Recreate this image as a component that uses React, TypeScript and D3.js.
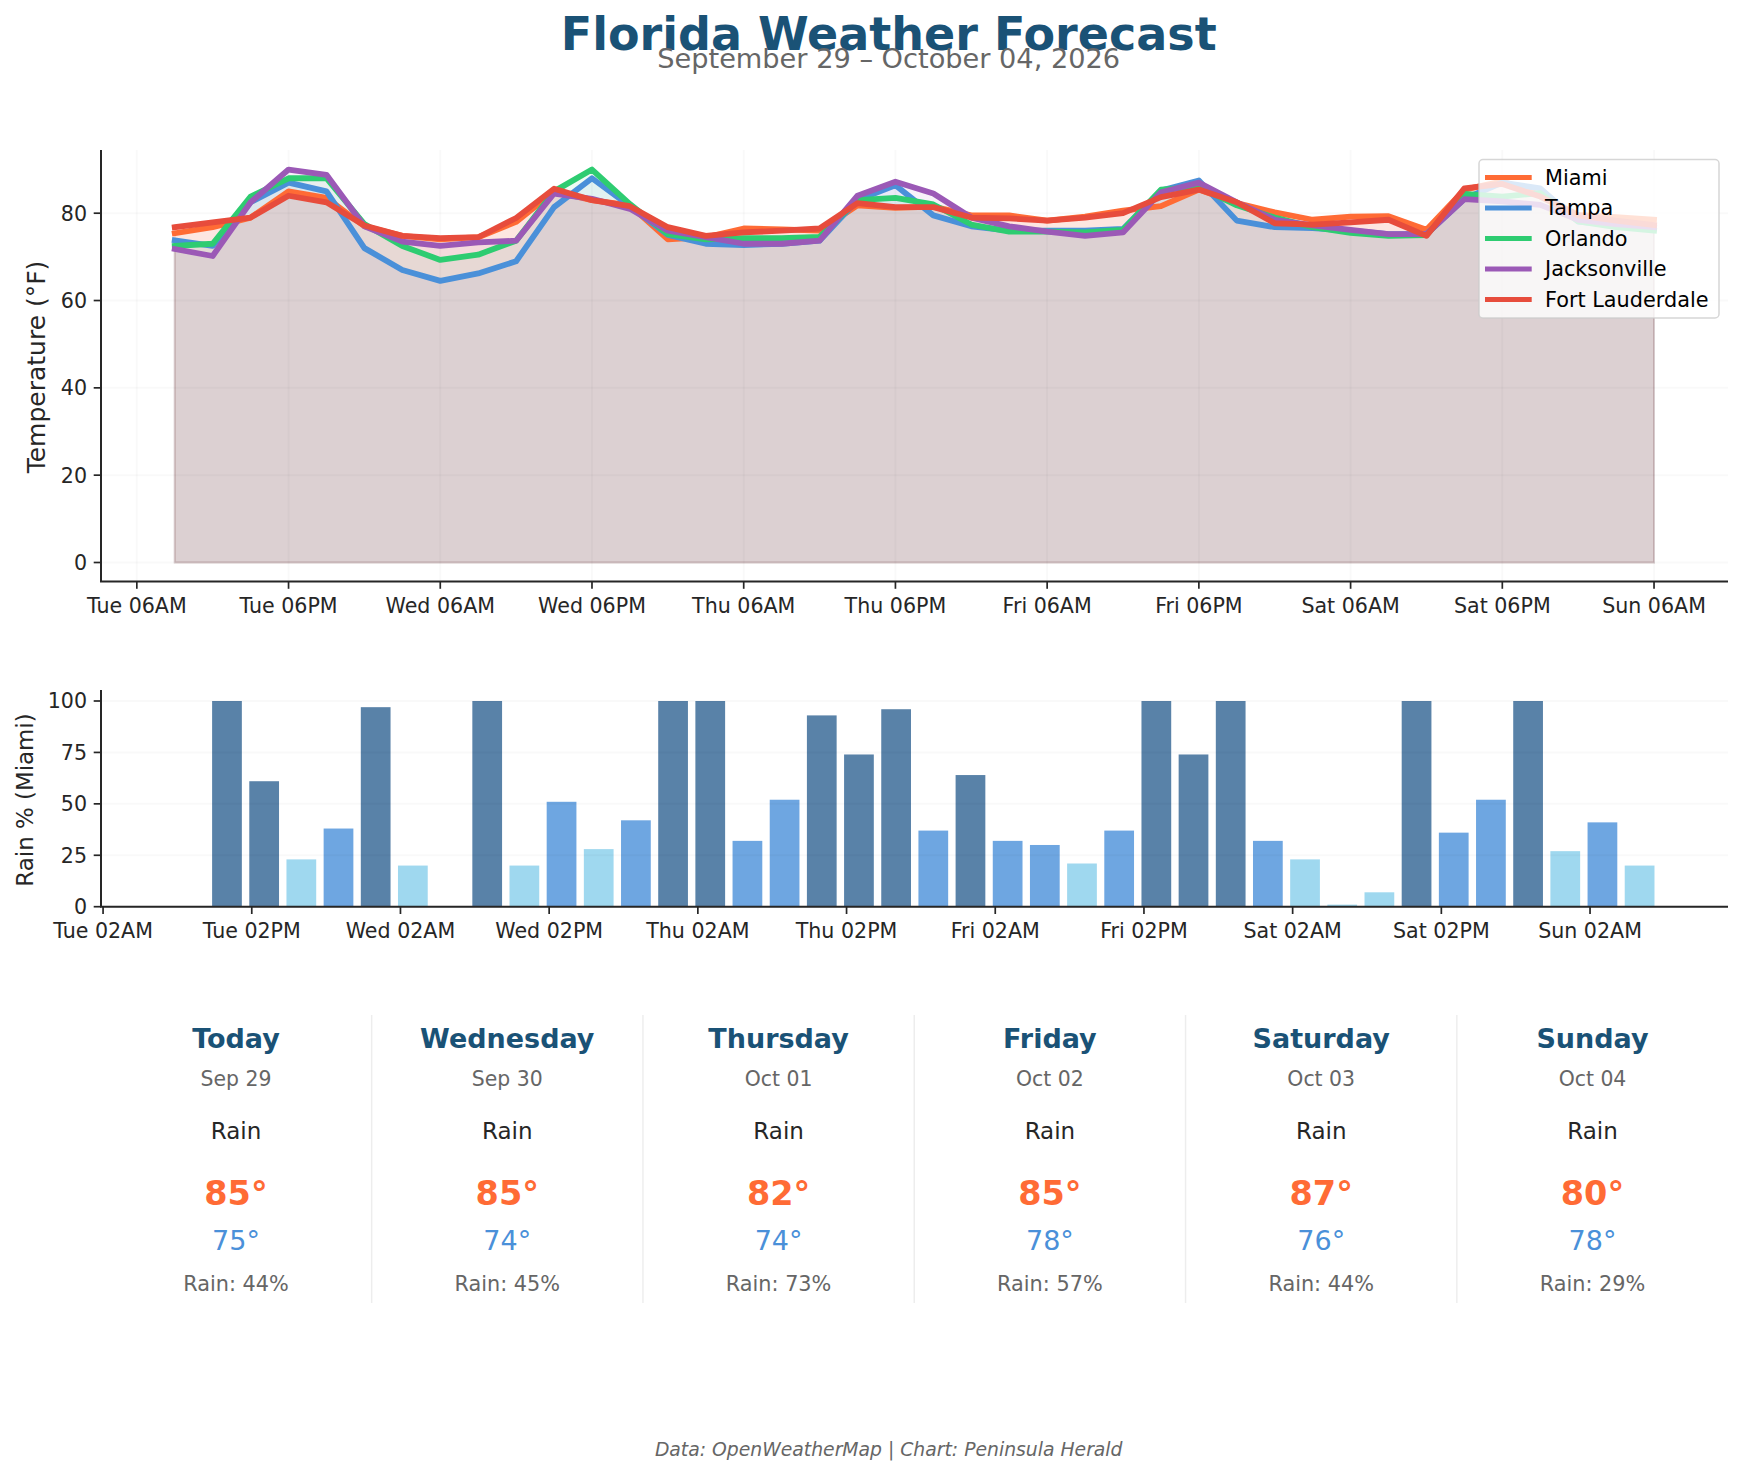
import * as d3 from "d3";

const WIDTH = 1743;
const HEIGHT = 1474;
const FONT = "'DejaVu Sans', sans-serif";
const TEXT = "#262626";
const NAVY = "#1a5276";
const GREY = "#666666";

const CITIES = ["Miami", "Tampa", "Orlando", "Jacksonville", "Fort Lauderdale"];
const CITY_COLORS = ["#ff6b35", "#4a90d9", "#2ecc71", "#9b59b6", "#e74c3c"];

const MIAMI = [75.4, 76.8, 79, 85, 83.5, 77, 74.8, 74, 74.5, 78, 85, 83, 81.8, 74, 74.5, 76.5, 76.3, 76, 81.8, 81.2, 81.5, 79.5, 79.5, 78.3, 79.2, 80.6, 81.6, 85.4, 82.3, 80.2, 78.5, 79.2, 79.3, 76.2, 85.4, 87.3, 84.2, 79.6, 79.1, 78.5];
const TAMPA = [73.8, 72.5, 82.5, 87, 85, 72, 67, 64.5, 66.2, 69, 81.4, 88, 81.6, 75, 73, 72.7, 73, 73.7, 83, 86.4, 79.5, 77, 76, 76, 76, 76.4, 85.2, 87.5, 78.3, 76.8, 76.6, 76, 75.2, 75.2, 83.3, 87, 85.7, 78.1, 77.2, 76.6];
const ORLANDO = [72.5, 73, 83.8, 88, 88, 77.5, 72.5, 69.3, 70.5, 73.7, 85, 90, 82.1, 75.2, 74, 74.3, 74.3, 74.6, 83, 83.5, 82, 77.4, 75.8, 75.8, 75.6, 76.2, 85.4, 86, 81.8, 79, 76.8, 75.5, 74.8, 75, 84.4, 83.8, 84.6, 78.1, 76.8, 76];
const JACKSONVILLE = [71.8, 70.2, 82.5, 90, 88.8, 77, 73.5, 72.5, 73.3, 73.7, 84.5, 83.3, 81, 76, 74.5, 73, 73, 73.7, 84, 87.2, 84.5, 79, 77, 75.8, 74.8, 75.6, 84.8, 87, 82.5, 78.5, 77.2, 76.2, 75.2, 75.2, 83.2, 82.7, 81.9, 78.5, 77.5, 76.8];
const FORT_LAUDERDALE = [76.8, 77.9, 79, 84, 82.5, 77.2, 74.8, 74.3, 74.5, 78.9, 85.6, 83, 81.6, 76.8, 74.8, 75.6, 76, 76.5, 82.3, 81.4, 81.4, 79, 78.8, 78.3, 79, 80, 83.7, 85.4, 82.5, 77.7, 77.4, 77.9, 78.5, 74.8, 85.7, 86.7, 83.8, 79.5, 78.3, 77.3];
const TEMPS = [MIAMI, TAMPA, ORLANDO, JACKSONVILLE, FORT_LAUDERDALE];

const RAIN = [0, 100, 61, 23, 38, 97, 20, 0, 100, 20, 51, 28, 42, 100, 100, 32, 52, 93, 74, 96, 37, 64, 32, 30, 21, 37, 100, 74, 100, 32, 23, 1, 7, 100, 36, 52, 100, 27, 41, 20];

const TEMP_TICKS = [0, 20, 40, 60, 80];
const RAIN_TICKS = [0, 25, 50, 75, 100];

const DAY_NAMES = ["Today", "Wednesday", "Thursday", "Friday", "Saturday", "Sunday"];
const DAY_DATES = ["Sep 29", "Sep 30", "Oct 01", "Oct 02", "Oct 03", "Oct 04"];
const DAY_HIGHS = [85, 85, 82, 85, 87, 80];
const DAY_LOWS = [75, 74, 74, 78, 76, 78];
const DAY_RAIN = [44, 45, 73, 57, 44, 29];

const START = Date.UTC(2026, 8, 29, 9);
const HOUR = 3600000;
const TIMES = MIAMI.map((_, i) => new Date(START + i * 3 * HOUR));
const fmt = d3.utcFormat("%a %I%p");

const LEFT = 101;
const RIGHT = 1728;

const xTop = d3
  .scaleUtc()
  .domain([new Date(Date.UTC(2026, 8, 29, 3, 10)), new Date(Date.UTC(2026, 9, 4, 11, 51))])
  .range([LEFT, RIGHT]);
const yTop = d3.scaleLinear().domain([0, 80]).range([562.5, 213.2]);
const topTicks = d3.utcHour.range(
  new Date(Date.UTC(2026, 8, 29, 6)),
  new Date(Date.UTC(2026, 9, 4, 7)),
  12
);

const xBar = d3
  .scaleUtc()
  .domain([new Date(Date.UTC(2026, 8, 29, 1, 50)), new Date(Date.UTC(2026, 9, 4, 13, 8))])
  .range([LEFT, RIGHT]);
const yBar = d3.scaleLinear().domain([0, 100]).range([906.7, 701]);
const barTicks = d3.utcHour.range(
  new Date(Date.UTC(2026, 8, 29, 2)),
  new Date(Date.UTC(2026, 9, 4, 3)),
  12
);

const rainColor = (v: number) => (v >= 60 ? "#1c5488" : v >= 30 ? "#4a90d9" : "#87ceeb");
const rainOpacity = (v: number) => (v >= 60 ? 0.73 : 0.8);

const lineGen = d3
  .line<number>()
  .x((_, i) => xTop(TIMES[i]))
  .y((d) => yTop(d));
const areaGen = d3
  .area<number>()
  .x((_, i) => xTop(TIMES[i]))
  .y0(yTop(0))
  .y1((d) => yTop(d));

const CARD_STEP = 271.3;
const cardX = d3.scaleLinear().domain([0, 1]).range([236, 236 + CARD_STEP]);

export default function App() {
  const barWidth = xBar(new Date(START + 2.4 * HOUR)) - xBar(new Date(START));
  return (
    <svg
      width={WIDTH}
      height={HEIGHT}
      viewBox={`0 0 ${WIDTH} ${HEIGHT}`}
      style={{ position: "absolute", left: 0, top: 0, background: "#fff" }}
      fontFamily={FONT}
    >
      <text x={888.7} y={50} textAnchor="middle" fontSize={46} fontWeight="bold" fill={NAVY}>
        Florida Weather Forecast
      </text>
      <text x={888.7} y={67.5} textAnchor="middle" fontSize={27.2} fill={GREY}>
        September 29 – October 04, 2026
      </text>

      {/* temperature panel */}
      <g>
        {TEMPS.map((vals, i) => (
          <path
            key={CITIES[i]}
            d={areaGen(vals) ?? ""}
            fill={CITY_COLORS[i]}
            fillOpacity={0.08}
            stroke={CITY_COLORS[i]}
            strokeOpacity={0.08}
            strokeWidth={2}
          />
        ))}
        {topTicks.map((t) => (
          <line key={+t} x1={xTop(t)} x2={xTop(t)} y1={150} y2={581.5} stroke="#000" strokeOpacity={0.025} strokeWidth={2} />
        ))}
        {TEMP_TICKS.map((t) => (
          <line key={t} x1={LEFT} x2={RIGHT} y1={yTop(t)} y2={yTop(t)} stroke="#000" strokeOpacity={0.025} strokeWidth={2} />
        ))}
        {TEMPS.map((vals, i) => (
          <path
            key={CITIES[i]}
            d={lineGen(vals) ?? ""}
            fill="none"
            stroke={CITY_COLORS[i]}
            strokeWidth={5.8}
            strokeLinejoin="round"
            strokeLinecap="square"
          />
        ))}
        <path d={`M${LEFT},150V581.5H${RIGHT}`} fill="none" stroke={TEXT} strokeWidth={2} />
        {topTicks.map((t) => (
          <g key={+t} transform={`translate(${xTop(t)},581.5)`}>
            <line y2={7.3} stroke={TEXT} strokeWidth={1.7} />
            <text y={31.8} textAnchor="middle" fontSize={20.6} fill={TEXT}>
              {fmt(t)}
            </text>
          </g>
        ))}
        {TEMP_TICKS.map((t) => (
          <g key={t} transform={`translate(${LEFT},${yTop(t)})`}>
            <line x2={-7.3} stroke={TEXT} strokeWidth={1.7} />
            <text x={-14} y={7.4} textAnchor="end" fontSize={20.6} fill={TEXT}>
              {t}
            </text>
          </g>
        ))}
        <text transform="translate(45,367) rotate(-90)" textAnchor="middle" fontSize={25} fill={TEXT}>
          Temperature (°F)
        </text>

        <rect x={1479} y={159.5} width={240} height={158.5} rx={4} fill="#fff" fillOpacity={0.8} stroke="#ccc" strokeOpacity={0.8} strokeWidth={1.5} />
        {CITIES.map((c, i) => (
          <g key={c} transform={`translate(1485,${177.5 + i * 30.5})`}>
            <line x1={0} x2={46.7} stroke={CITY_COLORS[i]} strokeWidth={5.2} />
            <text x={60} y={7.4} fontSize={20.8} fill="#000">
              {c}
            </text>
          </g>
        ))}
      </g>

      {/* rain panel */}
      <g>
        {RAIN.map((v, i) => (
          <rect
            key={i}
            x={xBar(TIMES[i]) - barWidth / 2}
            y={yBar(v)}
            width={barWidth}
            height={yBar(0) - yBar(v)}
            fill={rainColor(v)}
            fillOpacity={rainOpacity(v)}
          />
        ))}
        {RAIN_TICKS.map((t) => (
          <line key={t} x1={LEFT} x2={RIGHT} y1={yBar(t)} y2={yBar(t)} stroke="#000" strokeOpacity={0.025} strokeWidth={2} />
        ))}
        <path d={`M${LEFT},690V906.7H${RIGHT}`} fill="none" stroke={TEXT} strokeWidth={2} />
        {barTicks.map((t) => (
          <g key={+t} transform={`translate(${xBar(t)},906.7)`}>
            <line y2={7.3} stroke={TEXT} strokeWidth={1.7} />
            <text y={31.8} textAnchor="middle" fontSize={20.6} fill={TEXT}>
              {fmt(t)}
            </text>
          </g>
        ))}
        {RAIN_TICKS.map((t) => (
          <g key={t} transform={`translate(${LEFT},${yBar(t)})`}>
            <line x2={-7.3} stroke={TEXT} strokeWidth={1.7} />
            <text x={-14} y={7.4} textAnchor="end" fontSize={20.6} fill={TEXT}>
              {t}
            </text>
          </g>
        ))}
        <text transform="translate(33,800) rotate(-90)" textAnchor="middle" fontSize={22.9} fill={TEXT}>
          Rain % (Miami)
        </text>
      </g>

      {/* day cards */}
      {DAY_NAMES.map((name, i) => {
        const cx = cardX(i);
        return (
          <g key={name} textAnchor="middle">
            {i > 0 && (
              <line
                x1={cx - CARD_STEP / 2}
                x2={cx - CARD_STEP / 2}
                y1={1015}
                y2={1303}
                stroke="#000"
                strokeOpacity={0.07}
                strokeWidth={1.5}
              />
            )}
            <text x={cx} y={1047.8} fontSize={27} fontWeight="bold" fill={NAVY}>
              {name}
            </text>
            <text x={cx} y={1086} fontSize={20.4} fill={GREY}>
              {DAY_DATES[i]}
            </text>
            <text x={cx} y={1139} fontSize={23} fill={TEXT}>
              Rain
            </text>
            <text x={cx} y={1205} fontSize={33.5} fontWeight="bold" fill={CITY_COLORS[0]}>
              {DAY_HIGHS[i]}°
            </text>
            <text x={cx} y={1250} fontSize={27} fill={CITY_COLORS[1]}>
              {DAY_LOWS[i]}°
            </text>
            <text x={cx} y={1291} fontSize={20.8} fill={GREY}>
              Rain: {DAY_RAIN[i]}%
            </text>
          </g>
        );
      })}

      <text x={888.7} y={1456} textAnchor="middle" fontSize={18.8} fontStyle="italic" fill={GREY}>
        Data: OpenWeatherMap | Chart: Peninsula Herald
      </text>
    </svg>
  );
}
